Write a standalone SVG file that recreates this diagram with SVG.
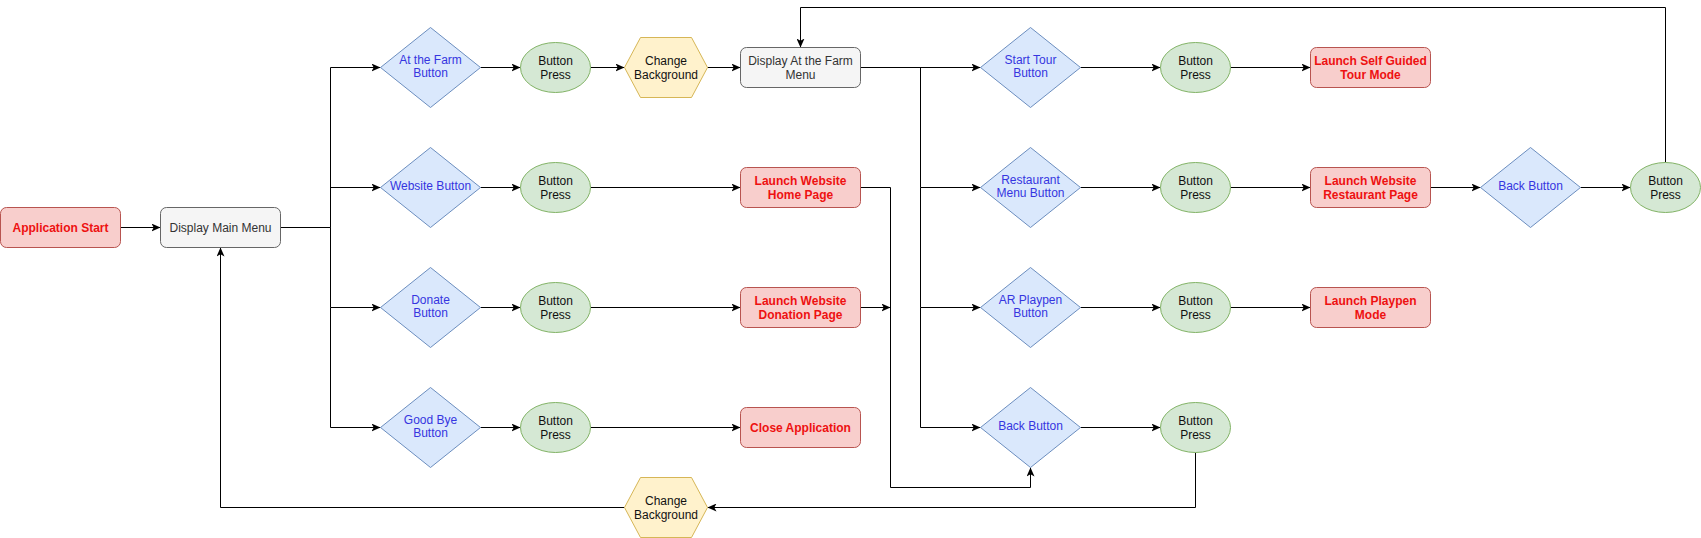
<svg xmlns="http://www.w3.org/2000/svg" width="1701" height="538" viewBox="0 0 1701 538">
<defs>
<marker id="arr" viewBox="0 0 9 8" refX="9" refY="4" markerWidth="9" markerHeight="8" markerUnits="userSpaceOnUse" orient="auto">
<path d="M0,0 L9,4 L0,8 L2.2,4 Z" fill="#000"/>
</marker>
<style>
text{font-family:"Liberation Sans",Arial,Helvetica,sans-serif;font-size:12px;text-anchor:middle}
.red rect{fill:#f8cecc;stroke:#b85450}
.red text{fill:#ee1111;font-weight:bold}
.gray rect{fill:#f5f5f5;stroke:#666666}
.gray text{fill:#333333}
.dia polygon{fill:#dae8fc;stroke:#6c8ebf}
.dia text{fill:#3535e0}
.ell ellipse{fill:#d5e8d4;stroke:#82b366}
.ell text{fill:#111}
.hex polygon{fill:#fff2cc;stroke:#d6b656}
.hex text{fill:#111}
.conn path{fill:none;stroke:#000;stroke-width:1}
.conn path.a{marker-end:url(#arr)}
</style>
</defs>
<rect width="1701" height="538" fill="#fff"/>
<g class="conn">
<path class="a" d="M120.5,227.5 H160.5"/>
<path class="a" d="M280.5,227.5 H330.5 V67.5 H380.5"/>
<path class="a" d="M330.5,227.5 V187.5 H380.5"/>
<path class="a" d="M330.5,227.5 V307.5 H380.5"/>
<path class="a" d="M330.5,307.5 V427.5 H380.5"/>
<path class="a" d="M480.5,67.5 H520.5"/>
<path class="a" d="M480.5,187.5 H520.5"/>
<path class="a" d="M480.5,307.5 H520.5"/>
<path class="a" d="M480.5,427.5 H520.5"/>
<path class="a" d="M590.5,67.5 H624.5"/>
<path class="a" d="M707.5,67.5 H740.5"/>
<path class="a" d="M590.5,187.5 H740.5"/>
<path class="a" d="M590.5,307.5 H740.5"/>
<path class="a" d="M590.5,427.5 H740.5"/>
<path class="a" d="M860.5,67.5 H980.5"/>
<path class="a" d="M920.5,67.5 V187.5 H980.5"/>
<path class="a" d="M920.5,187.5 V307.5 H980.5"/>
<path class="a" d="M920.5,307.5 V427.5 H980.5"/>
<path class="a" d="M860.5,187.5 H890.5 V487.5 H1030.5 V467.5"/>
<path class="a" d="M860.5,307.5 H890.5"/>
<path class="a" d="M1080.5,67.5 H1160.5"/>
<path class="a" d="M1080.5,187.5 H1160.5"/>
<path class="a" d="M1080.5,307.5 H1160.5"/>
<path class="a" d="M1080.5,427.5 H1160.5"/>
<path class="a" d="M1230.5,67.5 H1310.5"/>
<path class="a" d="M1230.5,187.5 H1310.5"/>
<path class="a" d="M1230.5,307.5 H1310.5"/>
<path class="a" d="M1430.5,187.5 H1480.5"/>
<path class="a" d="M1580.5,187.5 H1630.5"/>
<path class="a" d="M1665.5,162.5 V7.5 H800.5 V47.5"/>
<path class="a" d="M1195.5,452.5 V507.5 H707.5"/>
<path class="a" d="M624.5,507.5 H220.5 V247.5"/>
</g>
<g id="app-start" class="red"><rect x="0.5" y="207.5" width="120" height="40" rx="6"/><text x="60.5" y="231.8">Application Start</text></g>
<g id="main-menu" class="gray"><rect x="160.5" y="207.5" width="120" height="40" rx="6"/><text x="220.5" y="231.8">Display Main Menu</text></g>
<g id="farm-btn" class="dia"><polygon points="380.5,67.5 430.5,27.5 480.5,67.5 430.5,107.5"/><text x="430.5" y="63.5">At the Farm</text><text x="430.5" y="76.5">Button</text></g>
<g id="web-btn" class="dia"><polygon points="380.5,187.5 430.5,147.5 480.5,187.5 430.5,227.5"/><text x="430.5" y="190.2">Website Button</text></g>
<g id="donate-btn" class="dia"><polygon points="380.5,307.5 430.5,267.5 480.5,307.5 430.5,347.5"/><text x="430.5" y="303.5">Donate</text><text x="430.5" y="316.5">Button</text></g>
<g id="bye-btn" class="dia"><polygon points="380.5,427.5 430.5,387.5 480.5,427.5 430.5,467.5"/><text x="430.5" y="423.5">Good Bye</text><text x="430.5" y="436.5">Button</text></g>
<g id="press1" class="ell"><ellipse cx="555.5" cy="67.5" rx="35" ry="25"/><text x="555.5" y="65.2">Button</text><text x="555.5" y="78.5">Press</text></g>
<g id="press2" class="ell"><ellipse cx="555.5" cy="187.5" rx="35" ry="25"/><text x="555.5" y="185.2">Button</text><text x="555.5" y="198.5">Press</text></g>
<g id="press3" class="ell"><ellipse cx="555.5" cy="307.5" rx="35" ry="25"/><text x="555.5" y="305.2">Button</text><text x="555.5" y="318.5">Press</text></g>
<g id="press4" class="ell"><ellipse cx="555.5" cy="427.5" rx="35" ry="25"/><text x="555.5" y="425.2">Button</text><text x="555.5" y="438.5">Press</text></g>
<g id="bg1" class="hex"><polygon points="624.5,67.5 640.5,37.5 691.5,37.5 707.5,67.5 691.5,97.5 640.5,97.5"/><text x="666" y="65.2">Change</text><text x="666" y="78.5">Background</text></g>
<g id="farm-menu" class="gray"><rect x="740.5" y="47.5" width="120" height="40" rx="6"/><text x="800.5" y="65.2">Display At the Farm</text><text x="800.5" y="78.5">Menu</text></g>
<g id="home-page" class="red"><rect x="740.5" y="167.5" width="120" height="40" rx="6"/><text x="800.5" y="185.2">Launch Website</text><text x="800.5" y="198.5">Home Page</text></g>
<g id="donation-page" class="red"><rect x="740.5" y="287.5" width="120" height="40" rx="6"/><text x="800.5" y="305.2">Launch Website</text><text x="800.5" y="318.5">Donation Page</text></g>
<g id="close-app" class="red"><rect x="740.5" y="407.5" width="120" height="40" rx="6"/><text x="800.5" y="431.8">Close Application</text></g>
<g id="tour-btn" class="dia"><polygon points="980.5,67.5 1030.5,27.5 1080.5,67.5 1030.5,107.5"/><text x="1030.5" y="63.5">Start Tour</text><text x="1030.5" y="76.5">Button</text></g>
<g id="rest-btn" class="dia"><polygon points="980.5,187.5 1030.5,147.5 1080.5,187.5 1030.5,227.5"/><text x="1030.5" y="183.5">Restaurant</text><text x="1030.5" y="196.5">Menu Button</text></g>
<g id="ar-btn" class="dia"><polygon points="980.5,307.5 1030.5,267.5 1080.5,307.5 1030.5,347.5"/><text x="1030.5" y="303.5">AR Playpen</text><text x="1030.5" y="316.5">Button</text></g>
<g id="back-btn1" class="dia"><polygon points="980.5,427.5 1030.5,387.5 1080.5,427.5 1030.5,467.5"/><text x="1030.5" y="430.2">Back Button</text></g>
<g id="press5" class="ell"><ellipse cx="1195.5" cy="67.5" rx="35" ry="25"/><text x="1195.5" y="65.2">Button</text><text x="1195.5" y="78.5">Press</text></g>
<g id="press6" class="ell"><ellipse cx="1195.5" cy="187.5" rx="35" ry="25"/><text x="1195.5" y="185.2">Button</text><text x="1195.5" y="198.5">Press</text></g>
<g id="press7" class="ell"><ellipse cx="1195.5" cy="307.5" rx="35" ry="25"/><text x="1195.5" y="305.2">Button</text><text x="1195.5" y="318.5">Press</text></g>
<g id="press8" class="ell"><ellipse cx="1195.5" cy="427.5" rx="35" ry="25"/><text x="1195.5" y="425.2">Button</text><text x="1195.5" y="438.5">Press</text></g>
<g id="tour-mode" class="red"><rect x="1310.5" y="47.5" width="120" height="40" rx="6"/><text x="1370.5" y="65.2">Launch  Self Guided</text><text x="1370.5" y="78.5">Tour Mode</text></g>
<g id="rest-page" class="red"><rect x="1310.5" y="167.5" width="120" height="40" rx="6"/><text x="1370.5" y="185.2">Launch Website</text><text x="1370.5" y="198.5">Restaurant Page</text></g>
<g id="playpen" class="red"><rect x="1310.5" y="287.5" width="120" height="40" rx="6"/><text x="1370.5" y="305.2">Launch Playpen</text><text x="1370.5" y="318.5">Mode</text></g>
<g id="back-btn2" class="dia"><polygon points="1480.5,187.5 1530.5,147.5 1580.5,187.5 1530.5,227.5"/><text x="1530.5" y="190.2">Back Button</text></g>
<g id="press9" class="ell"><ellipse cx="1665.5" cy="187.5" rx="35" ry="25"/><text x="1665.5" y="185.2">Button</text><text x="1665.5" y="198.5">Press</text></g>
<g id="bg2" class="hex"><polygon points="624.5,507.5 640.5,477.5 691.5,477.5 707.5,507.5 691.5,537.5 640.5,537.5"/><text x="666" y="505.2">Change</text><text x="666" y="518.5">Background</text></g>
</svg>
